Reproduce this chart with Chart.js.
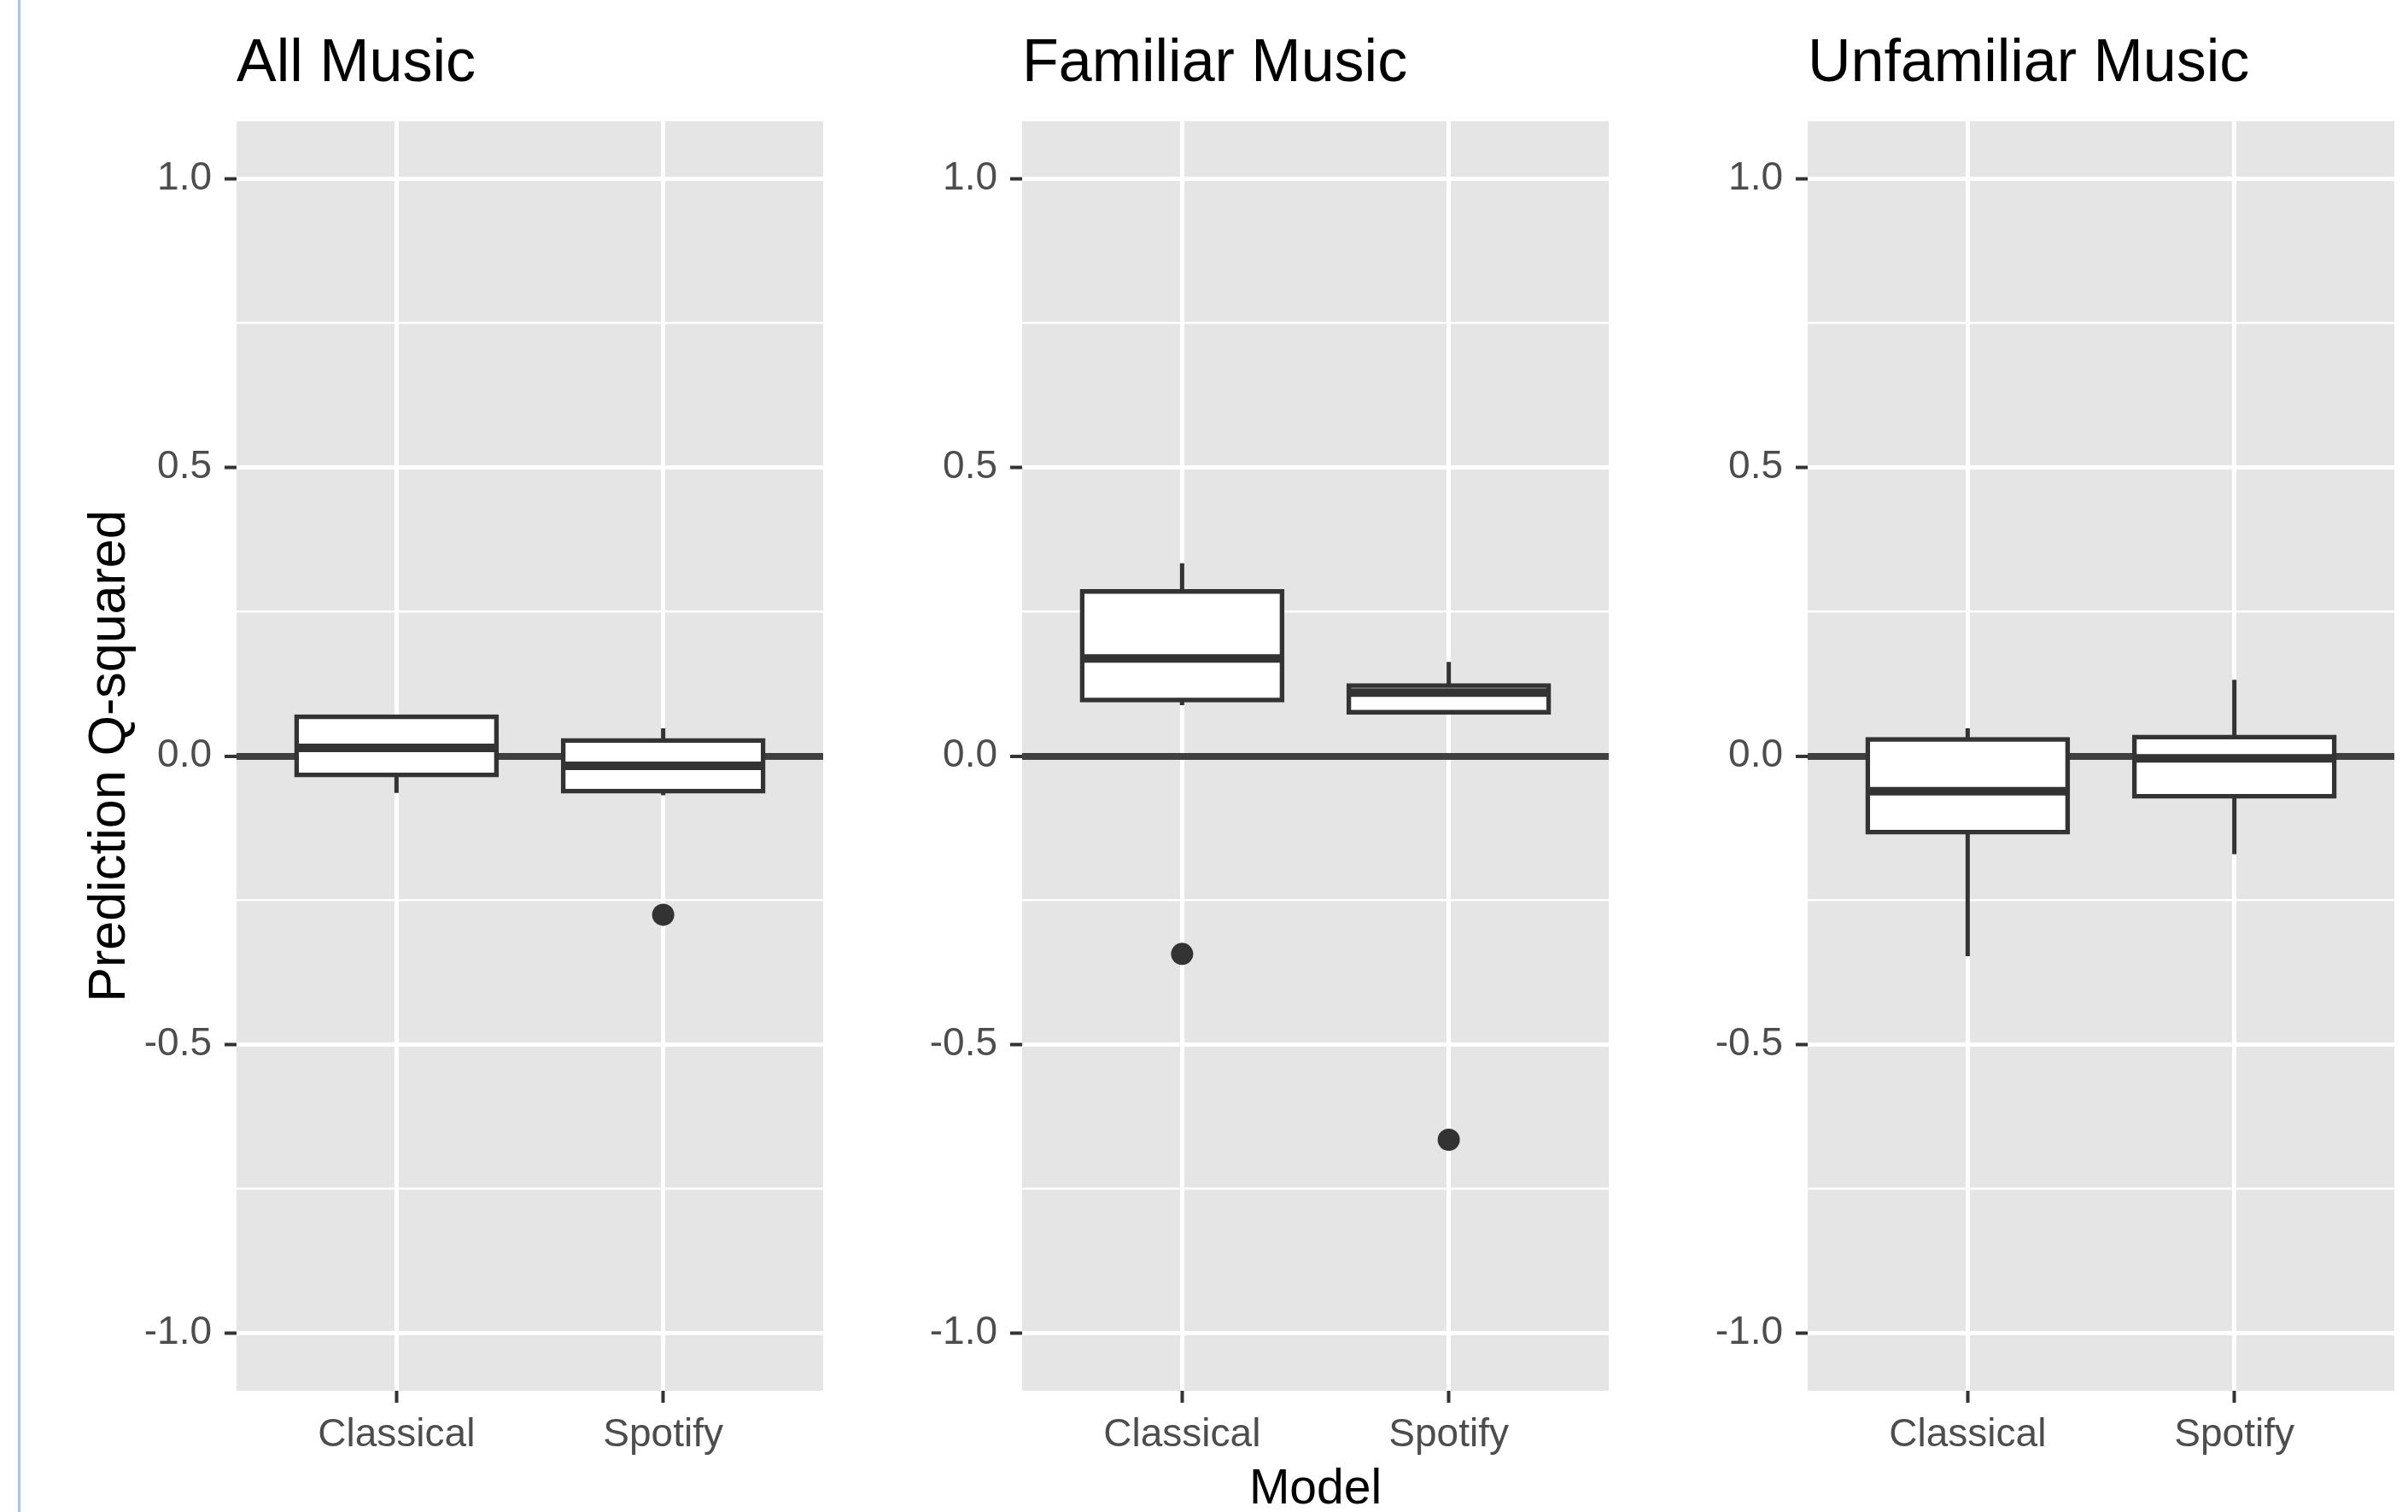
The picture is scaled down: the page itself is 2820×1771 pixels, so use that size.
<!DOCTYPE html>
<html><head><meta charset="utf-8">
<script src="https://cdn.jsdelivr.net/npm/chart.js@4.4.1/dist/chart.umd.min.js"></script>
<style>
html,body{margin:0;padding:0;background:#fff;}
body{width:2820px;height:1771px;position:relative;overflow:hidden;}
canvas{position:absolute;top:0;}
#edge{position:absolute;left:21px;top:0;width:3px;height:1771px;background:#a9c4e6;}
</style></head><body>
<div id="edge"></div>
<canvas id="c0" width="964" height="1771" style="left:0px"></canvas>
<canvas id="c1" width="837" height="1771" style="left:1047px"></canvas>
<canvas id="c2" width="837" height="1771" style="left:1967px"></canvas>
<script>
// ---- data ----
const CATEGORIES = ['Classical', 'Spotify'];
const PANEL_TITLES = ['All Music', 'Familiar Music', 'Unfamiliar Music'];
const X_AXIS_TITLE = 'Model';
const Y_AXIS_TITLE = 'Prediction Q-squared';
const Y_MAJOR_TICKS = [-1, -0.5, 0, 0.5, 1];
const Y_MINOR_TICKS = [-0.75, -0.25, 0.25, 0.75];
// each row = one panel, each entry = [Classical, Spotify]
const WHISKER_LOW  = [[-0.064, -0.068], [0.088, 0.073], [-0.347, -0.170]];
const Q1           = [[-0.033, -0.061], [0.097, 0.076], [-0.132, -0.070]];
const MEDIAN       = [[ 0.014, -0.017], [0.169, 0.110], [-0.061, -0.004]];
const Q3           = [[ 0.068,  0.027], [0.285, 0.122], [ 0.029,  0.033]];
const WHISKER_HIGH = [[ 0.071,  0.048], [0.334, 0.163], [ 0.048,  0.132]];
const OUTLIERS     = [[[], [-0.275]], [[-0.343], [-0.665]], [[], []]];

// ---- styling / layout ----
const FONT = '"Liberation Sans", Arial, Helvetica, sans-serif';
const BOX_WIDTH = 0.75;
const INK = '#333333';
const PANELS = [
  {canvas: 'c0', yWidth: 277, yTitle: true,  xTitle: false},
  {canvas: 'c1', yWidth: 150, yTitle: false, xTitle: true},
  {canvas: 'c2', yWidth: 150, yTitle: false, xTitle: false}
];
const isMajor = v => Y_MAJOR_TICKS.includes(v);

const panelBg = {
  id: 'panelBg',
  beforeDraw(chart) {
    const {ctx, chartArea: a} = chart;
    ctx.save();
    ctx.fillStyle = '#E5E5E5';
    ctx.fillRect(a.left, a.top, a.right - a.left, a.bottom - a.top);
    ctx.restore();
  }
};

function makePanel(p) {
  const cfg = PANELS[p];
  const xs = CATEGORIES.map((_, i) => i + 1);
  const whiskers = xs.map((x, i) => ({x, y: [WHISKER_LOW[p][i], WHISKER_HIGH[p][i]]}));
  const boxes = xs.map((x, i) => ({x, y: [Q1[p][i], Q3[p][i]]}));
  const medians = [];
  xs.forEach((x, i) => {
    if (i > 0) medians.push({x: x - 0.5, y: null});
    medians.push({x: x - BOX_WIDTH / 2, y: MEDIAN[p][i]}, {x: x + BOX_WIDTH / 2, y: MEDIAN[p][i]});
  });
  const outliers = [];
  xs.forEach((x, i) => OUTLIERS[p][i].forEach(v => outliers.push({x, y: v})));

  new Chart(document.getElementById(cfg.canvas), {
    type: 'bar',
    data: {
      datasets: [
        {type: 'bar', data: whiskers, backgroundColor: INK, borderWidth: 0, barThickness: 5,
         grouped: false, inflateAmount: 0, order: 4},
        {type: 'bar', data: boxes, backgroundColor: '#ffffff', borderColor: INK, borderWidth: 5.5,
         borderSkipped: false, barPercentage: BOX_WIDTH, categoryPercentage: 1, grouped: false,
         inflateAmount: 2.75, order: 3},
        {type: 'line', data: medians, borderColor: INK, borderWidth: 10, pointRadius: 0,
         spanGaps: false, borderCapStyle: 'butt', fill: false, tension: 0, order: 2},
        {type: 'scatter', data: outliers, backgroundColor: INK, borderWidth: 0, pointRadius: 13,
         pointHoverRadius: 13, order: 1}
      ]
    },
    options: {
      responsive: false, animation: false, devicePixelRatio: 1,
      layout: {padding: 0, autoPadding: false},
      events: [],
      plugins: {
        legend: {display: false}, tooltip: {enabled: false},
        title: {display: true, text: PANEL_TITLES[p], align: 'start', fullSize: false, color: '#000000',
                font: {family: FONT, size: 70, weight: 'normal', lineHeight: 1},
                padding: {top: 41, bottom: 31}}
      },
      scales: {
        x: {
          type: 'linear', min: 0.4, max: 2.6, offset: false,
          afterBuildTicks: s => { s.ticks = xs.map(v => ({value: v})); },
          afterFit: s => { s.height = 142; s.paddingLeft = 0; s.paddingRight = 0; },
          ticks: {callback: v => CATEGORIES[Math.round(v) - 1], font: {family: FONT, size: 46, lineHeight: 1},
                  color: '#4d4d4d', padding: 15, maxRotation: 0, autoSkip: false},
          grid: {offset: false, color: '#ffffff', lineWidth: 5, z: -2, drawTicks: true, tickLength: 14,
                 tickColor: INK, tickWidth: 4},
          border: {display: false},
          title: {display: cfg.xTitle, text: X_AXIS_TITLE, color: '#000000',
                  font: {family: FONT, size: 57, lineHeight: 0.9}, padding: {top: 0, bottom: 0}}
        },
        y: {
          type: 'linear', min: -1.1, max: 1.1,
          afterBuildTicks: s => {
            s.ticks = [...Y_MAJOR_TICKS, ...Y_MINOR_TICKS].sort((a, b) => a - b).map(v => ({value: v}));
          },
          afterFit: s => { s.width = cfg.yWidth; s.paddingTop = 0; s.paddingBottom = 0; },
          ticks: {callback: v => isMajor(v) ? v.toFixed(1) : '', font: {family: FONT, size: 46, lineHeight: 1},
                  color: '#4d4d4d', padding: 15, autoSkip: false},
          grid: {
            z: -1, drawTicks: true, tickLength: 14, tickWidth: 4,
            color: c => (c.tick && c.tick.value === 0) ? '#404040' : '#ffffff',
            lineWidth: c => !c.tick ? 0 : (c.tick.value === 0 ? 8 : (isMajor(c.tick.value) ? 5 : 2.5)),
            tickColor: c => (c.tick && isMajor(c.tick.value)) ? INK : 'rgba(0,0,0,0)'
          },
          border: {display: false},
          title: {display: cfg.yTitle, text: Y_AXIS_TITLE, color: '#000000',
                  font: {family: FONT, size: 61, lineHeight: 1}, padding: {top: 99, bottom: 0}}
        }
      }
    },
    plugins: [panelBg]
  });
}
PANELS.forEach((_, p) => makePanel(p));
</script>
</body></html>
